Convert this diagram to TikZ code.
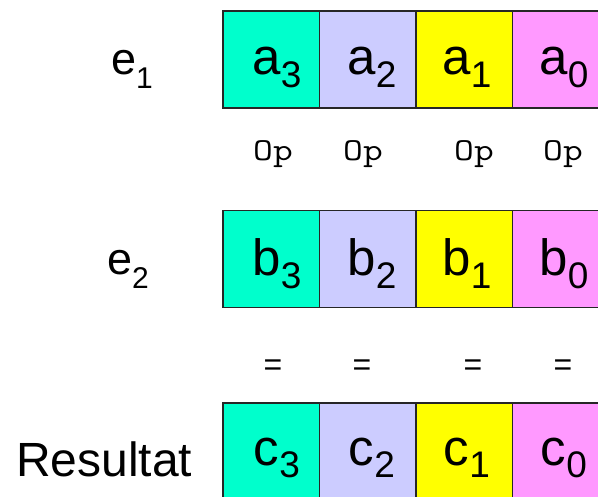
\documentclass[tikz,border=0pt]{standalone}
\usepackage{fontspec}
\setmainfont{Liberation Sans}
\definecolor{colA}{HTML}{00FFCC}
\definecolor{colB}{HTML}{CCCCFF}
\definecolor{colC}{HTML}{FFFF00}
\definecolor{colD}{HTML}{FF99FF}
\newcommand\cellsub[1]{\raisebox{-13pt}{\fontsize{37}{37}\selectfont #1}}
\newcommand\labsub[1]{\raisebox{-14pt}{\fontsize{30}{30}\selectfont #1}}
\newcommand\optxt{\scalebox{1.2}[1]{\ttfamily\fontsize{32}{32}\selectfont Op}}
\tikzset{
  cellbox/.style={draw=black!85, line width=1.6pt, minimum width=96.5pt, minimum height=97pt, inner sep=0pt, outer sep=0pt},
  celltext/.style={anchor=base, inner sep=0pt, font=\fontsize{51}{51}\selectfont},
  rowlabel/.style={anchor=base west, inner sep=0pt, font=\fontsize{45}{45}\selectfont},
  optext/.style={inner sep=0pt},
  eqtext/.style={inner sep=0pt, font=\fontsize{32}{32}\selectfont}
}
\begin{document}
\begin{tikzpicture}[x=1pt,y=1pt]
\clip (0,0) rectangle (598,-497);
\fill[white] (0,0) rectangle (598,-497);
% row a
\node[cellbox, fill=colA] (ca3) at (271.2,-59.5) {};
\node[cellbox, fill=colB] (ca2) at (367.7,-59.5) {};
\node[cellbox, fill=colC] (ca1) at (464.2,-59.5) {};
\node[cellbox, fill=colD] (ca0) at (560.7,-59.5) {};
% row b
\node[cellbox, fill=colA] (cb3) at (271.2,-259) {};
\node[cellbox, fill=colB] (cb2) at (367.7,-259) {};
\node[cellbox, fill=colC] (cb1) at (464.2,-259) {};
\node[cellbox, fill=colD] (cb0) at (560.7,-259) {};
% row c
\node[cellbox, fill=colA] (cc3) at (271.2,-451.5) {};
\node[cellbox, fill=colB] (cc2) at (367.7,-451.5) {};
\node[cellbox, fill=colC] (cc1) at (464.2,-451.5) {};
\node[cellbox, fill=colD] (cc0) at (560.7,-451.5) {};
% cell texts
\node[celltext] (ta3) at (277,-75) {a\cellsub{3}};
\node[celltext] (ta2) at (372,-75) {a\cellsub{2}};
\node[celltext] (ta1) at (467,-75) {a\cellsub{1}};
\node[celltext] (ta0) at (564,-75) {a\cellsub{0}};
\node[celltext] (tb3) at (277,-276) {b\cellsub{3}};
\node[celltext] (tb2) at (372,-276) {b\cellsub{2}};
\node[celltext] (tb1) at (467,-276) {b\cellsub{1}};
\node[celltext] (tb0) at (564,-276) {b\cellsub{0}};
\node[celltext] (tc3) at (277,-465) {c\cellsub{3}};
\node[celltext] (tc2) at (372,-465) {c\cellsub{2}};
\node[celltext] (tc1) at (467,-465) {c\cellsub{1}};
\node[celltext] (tc0) at (564,-465) {c\cellsub{0}};
% row labels
\node[rowlabel] (e1) at (111,-75) {e\labsub{1}};
\node[rowlabel] (e2) at (107,-275) {e\labsub{2}};
\node[rowlabel, font=\fontsize{48}{48}\selectfont] (res) at (16,-477) {Resultat};
% ops
\node[optext] (op3) at (273,-154) {\optxt};
\node[optext] (op2) at (363,-154) {\optxt};
\node[optext] (op1) at (474,-154) {\optxt};
\node[optext] (op0) at (563,-154) {\optxt};
% equals
\node[eqtext] (eq3) at (273,-368) {=};
\node[eqtext] (eq2) at (362,-368) {=};
\node[eqtext] (eq1) at (473,-368) {=};
\node[eqtext] (eq0) at (563,-368) {=};
\end{tikzpicture}
\end{document}
